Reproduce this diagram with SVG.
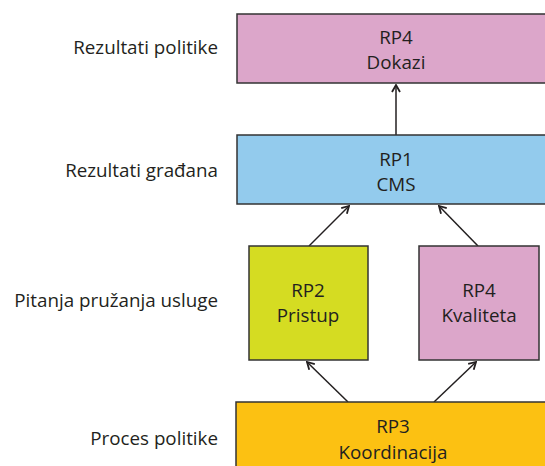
<svg xmlns="http://www.w3.org/2000/svg" width="545" height="466" viewBox="0 0 545 466">
<defs>
<style>
text{font-family:"Open Sans","Liberation Sans",sans-serif;font-size:18.8px;fill:#231f20}
.n{text-anchor:middle}
.l{text-anchor:end}
rect{stroke:#333;stroke-width:1.5}
.c line{stroke:#231f20;stroke-width:1.5;fill:none}
</style>
<marker id="ah" viewBox="0 0 10 10" refX="9" refY="5" markerWidth="10" markerHeight="10" markerUnits="userSpaceOnUse" orient="auto">
<path d="M2,1 L9,5 L2,9" fill="none" stroke="#231f20" stroke-width="1.8"/>
</marker>
</defs>
<rect width="545" height="466" fill="#fff" style="stroke:none"/>
<g id="labels">
<text class="l" x="218" y="54">Rezultati politike</text>
<text class="l" x="218" y="177">Rezultati građana</text>
<text class="l" x="218" y="307">Pitanja pružanja usluge</text>
<text class="l" x="218" y="445">Proces politike</text>
</g>
<g class="c" id="connectors">
<line x1="396" y1="135" x2="396" y2="85" marker-end="url(#ah)"/>
<line x1="309" y1="246" x2="349" y2="206" marker-end="url(#ah)"/>
<line x1="478" y1="246" x2="439" y2="206" marker-end="url(#ah)"/>
<line x1="348" y1="402" x2="307" y2="362" marker-end="url(#ah)"/>
<line x1="434" y1="402" x2="476" y2="362" marker-end="url(#ah)"/>
</g>
<g id="rp4-dokazi">
<rect x="237" y="14" width="320" height="69" fill="#dca6ca"/>
<text class="n" x="396" y="44">RP4</text>
<text class="n" x="396" y="69">Dokazi</text>
</g>
<g id="rp1-cms">
<rect x="237" y="135" width="320" height="69" fill="#93cbed"/>
<text class="n" x="396" y="166">RP1</text>
<text class="n" x="396" y="191">CMS</text>
</g>
<g id="rp2-pristup">
<rect x="249" y="246" width="119" height="114" fill="#d5dc22"/>
<text class="n" x="308" y="297">RP2</text>
<text class="n" x="308" y="322">Pristup</text>
</g>
<g id="rp4-kvaliteta">
<rect x="419" y="246" width="120" height="114" fill="#dca6ca"/>
<text class="n" x="479" y="297">RP4</text>
<text class="n" x="479" y="322">Kvaliteta</text>
</g>
<g id="rp3-koordinacija">
<rect x="236" y="402" width="320" height="80" fill="#fcc112"/>
<text class="n" x="393" y="433">RP3</text>
<text class="n" x="393" y="459">Koordinacija</text>
</g>
</svg>
